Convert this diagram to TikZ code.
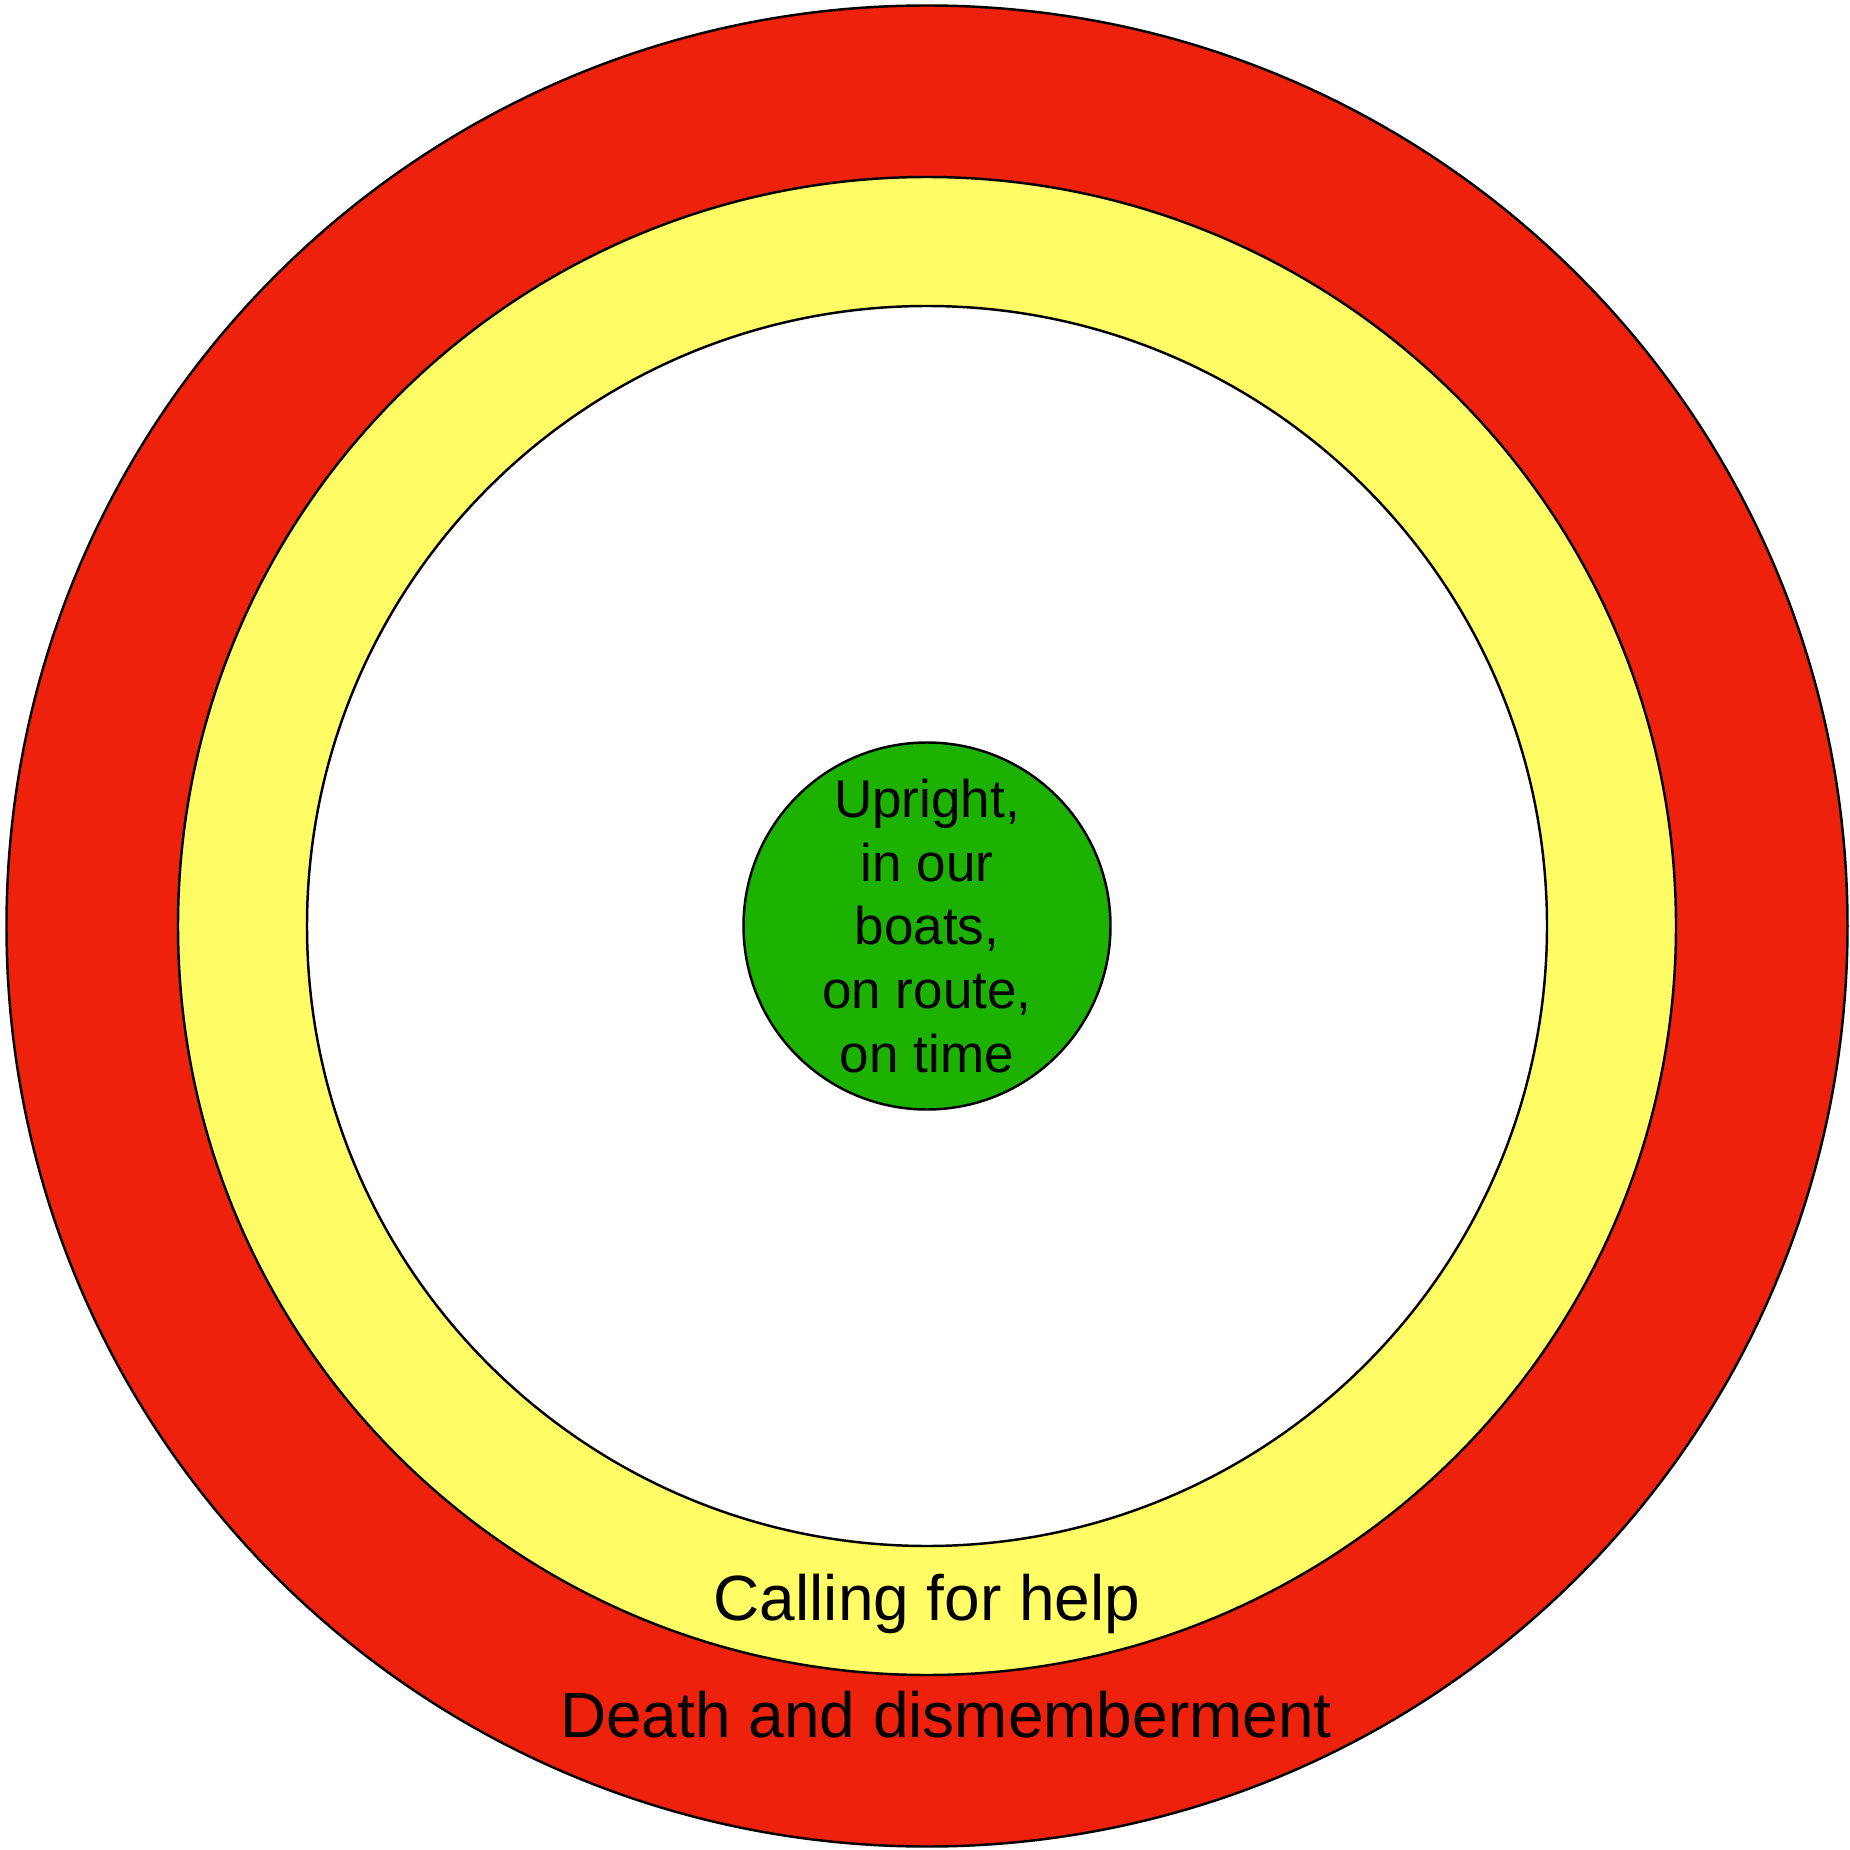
\documentclass[tikz,border=0pt]{standalone}
\usepackage{fontspec}
\setmainfont{Liberation Sans}
\usepackage{tikz}
\usetikzlibrary{positioning}
\definecolor{dangerred}{HTML}{EE220C}
\definecolor{warnyellow}{HTML}{FFFC66}
\definecolor{safegreen}{HTML}{1DB100}

\begin{document}
\begin{tikzpicture}[
      ring/.style={circle, draw=black, line width=0.7pt, inner sep=0pt},
      zonelabel/.style={anchor=base, inner sep=0pt, font=\fontsize{18.2}{21}\selectfont}
    ]
      \useasboundingbox (0,0) rectangle (18.5,18.49);
      \coordinate (c) at (9.27,9.23);
      \node[ring, fill=dangerred, minimum size=18.41cm] (death) at (c) {};
      \node[ring, fill=warnyellow, minimum size=14.98cm] (help) at (c) {};
      \node[ring, fill=white, minimum size=12.4cm] (safe) at (c) {};
      \node[ring, fill=safegreen, minimum size=3.67cm, align=center,
            font=\fontsize{15.1}{18.2}\selectfont] (goal) at (c)
            {Upright,\\in our\\boats,\\on route,\\on time};
      \node[zonelabel] (helptext) at (9.27,2.29) {Calling for help};
      \node[zonelabel] (deathtext) at (9.46,1.12) {Death and dismemberment};
    \end{tikzpicture}
\end{document}
